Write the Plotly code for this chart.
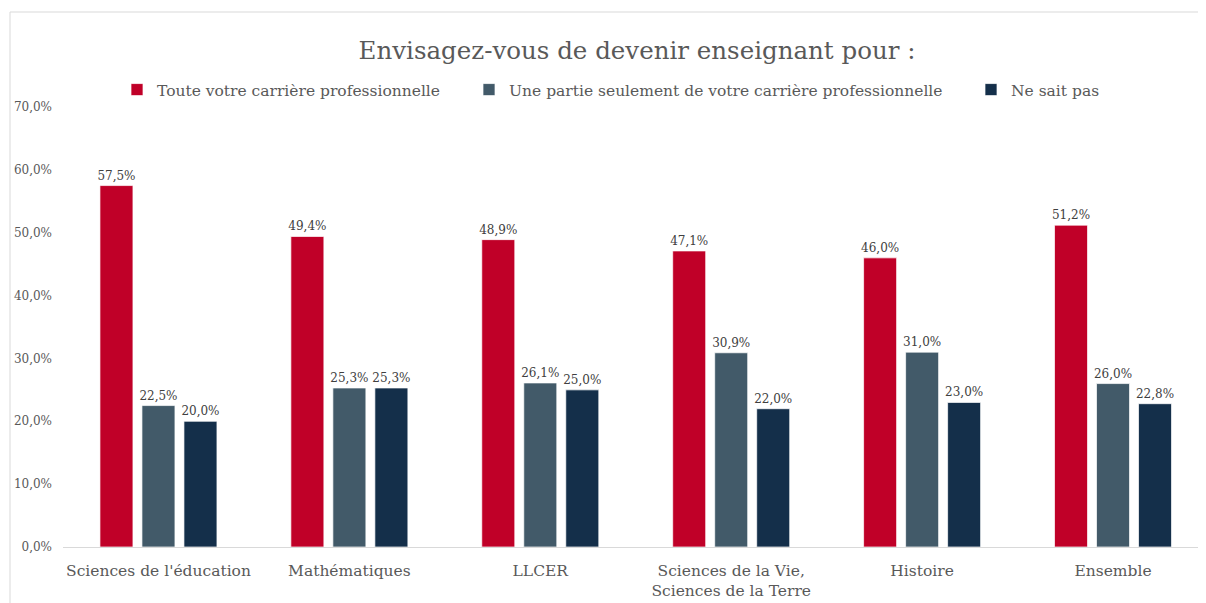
import plotly.graph_objects as go

categories = ["Sciences de l'éducation", "Mathématiques", "LLCER",
              "Sciences de la Vie,<br>Sciences de la Terre", "Histoire", "Ensemble"]
series_names = ["Toute votre carrière professionnelle",
                "Une partie seulement de votre carrière professionnelle",
                "Ne sait pas"]
toute = [0.575, 0.494, 0.489, 0.471, 0.460, 0.512]
partie = [0.225, 0.253, 0.261, 0.309, 0.310, 0.260]
ne_sait_pas = [0.200, 0.253, 0.250, 0.220, 0.230, 0.228]
colors = ["#C00028", "#425A69", "#142F4A"]

FONT = "DejaVu Serif"
TXT = "#595959"

# page body has an 8px margin: figure pixel = page pixel - 8
W, H = 1198, 595
L, T, B = 55, 99, 56
PW, PH = W - L, H - T - B


def px_x(p):
    return (p - 8 - L) / PW


def px_y(p):
    return 1 + (T - (p - 8)) / PH


legend_names = ["legend", "legend2", "legend3"]
text_starts = [157, 509, 1011]

fig = go.Figure()
for name, vals, col, lg in zip(series_names, [toute, partie, ne_sait_pas], colors, legend_names):
    fig.add_trace(go.Bar(
        x=categories, y=vals, name=name, legend=lg, showlegend=True,
        marker=dict(color=col, line=dict(color="rgba(255,255,255,0.7)", width=1)),
        texttemplate="%{y:.1%}", textposition="outside", constraintext="none",
        textfont=dict(family=FONT, size=12, color="#404040"),
        cliponaxis=False,
    ))

legend_common = dict(orientation="h", yanchor="middle", xanchor="left",
                     font=dict(family=FONT, size=15.5, color=TXT),
                     itemwidth=30, bgcolor="rgba(0,0,0,0)")
legends = {}
for lg, ts in zip(legend_names, text_starts):
    legends[lg] = dict(legend_common, x=px_x(ts - 40), y=px_y(90))

fig.update_layout(
    width=W, height=H,
    showlegend=True,
    separators=", ",
    paper_bgcolor="white", plot_bgcolor="white",
    margin=dict(l=L, r=0, t=T, b=B),
    barmode="group", bargap=0.34, bargroupgap=0.214,
    font=dict(family=FONT, color=TXT),
    title=dict(text="Envisagez-vous de devenir enseignant pour :",
               x=(637 - 8) / W, xanchor="center", y=1 - (50 - 8) / H, yanchor="middle",
               font=dict(family=FONT, size=24.5, color=TXT)),
    xaxis=dict(range=[-0.5, 5.487], showline=True, linecolor="#D9D9D9", linewidth=1,
               ticks="", ticklabelstandoff=9,
               tickfont=dict(family=FONT, size=15.5, color=TXT), showgrid=False),
    yaxis=dict(range=[0, 0.7], dtick=0.1, tickformat=".1%", showgrid=False,
               zeroline=False, showline=False, ticklabelstandoff=10,
               tickfont=dict(family=FONT, size=12, color=TXT)),
    shapes=[dict(type="rect", xref="paper", yref="paper",
                 x0=px_x(10), x1=1.02, y0=-0.3, y1=px_y(12),
                 line=dict(color="#D9D9D9", width=1), fillcolor="rgba(0,0,0,0)", layer="below")],
    **legends,
)

fig.write_html("out.html")
